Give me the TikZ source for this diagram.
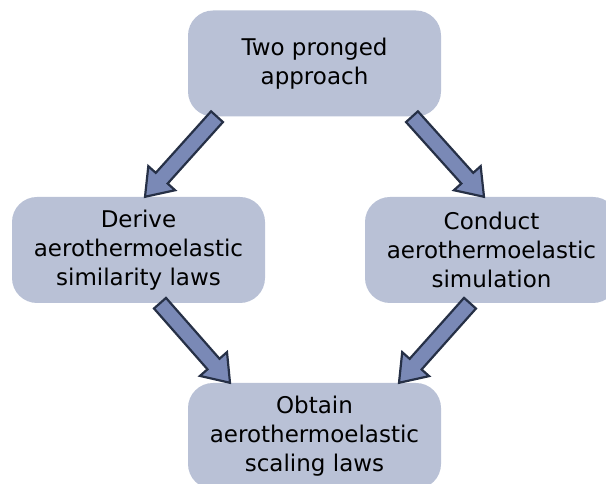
\documentclass[tikz,border=0pt]{standalone}
\usepackage{fontspec}
\setmainfont{DejaVu Sans}
\usepackage{tikz}
\usetikzlibrary{calc}
\definecolor{boxfill}{HTML}{B9C1D6}
\definecolor{arrowfill}{HTML}{7A89B6}
\definecolor{arrowline}{HTML}{263046}
\tikzstyle{stepbox} = [rectangle,rounded corners=25pt,minimum width=253pt,minimum height=106pt,text centered,align=center,draw=none,fill=boxfill,text=black]
\tikzstyle{fatarrow} = [fill=arrowfill,draw=arrowline,line width=2.2pt,line join=miter]
% wide arrow from #1 to #2
\newcommand{\fatarrow}[2]{%
  \coordinate (#1h) at ($(#2)!25pt!(#1)$);
  \draw[fatarrow] ($(#1)!8pt!90:(#2)$) -- ($(#1h)!8pt!90:(#2)$) -- ($(#1h)!18pt!90:(#2)$)
    -- (#2) -- ($(#1h)!18pt!-90:(#2)$) -- ($(#1h)!8pt!-90:(#2)$) -- ($(#1)!8pt!-90:(#2)$) -- cycle;
}
\begin{document}
\begin{tikzpicture}[x=1pt,y=1pt,node distance=186.5pt]
\tikzstyle{every node}=[font=\fontsize{23}{29}\selectfont]
\useasboundingbox (0,0) rectangle (606,484);

\node (top)    [stepbox] at (314.5,420.5) {Two pronged\\approach};
\node (derive) [stepbox,below of=top,xshift=-176pt] {Derive\\aerothermoelastic\\similarity laws};
\node (sim)    [stepbox,below of=top,xshift=177pt] {Conduct\\aerothermoelastic\\simulation};
\node (obtain) [stepbox,below of=derive,xshift=176pt,yshift=0.5pt] {Obtain\\aerothermoelastic\\scaling laws};

\coordinate (tl) at ([xshift=-97.5pt]top.south);
\coordinate (tlend) at ([xshift=6.5pt]derive.north);
\coordinate (tr) at ([xshift=97.5pt]top.south);
\coordinate (trend) at ([xshift=-7.5pt]sim.north);
\coordinate (bl) at ([xshift=21.5pt]derive.south);
\coordinate (blend) at ([xshift=-84.5pt]obtain.north);
\coordinate (br) at ([xshift=-21.5pt]sim.south);
\coordinate (brend) at ([xshift=84.5pt]obtain.north);

\fatarrow{tl}{tlend}
\fatarrow{tr}{trend}
\fatarrow{bl}{blend}
\fatarrow{br}{brend}

\end{tikzpicture}
\end{document}
